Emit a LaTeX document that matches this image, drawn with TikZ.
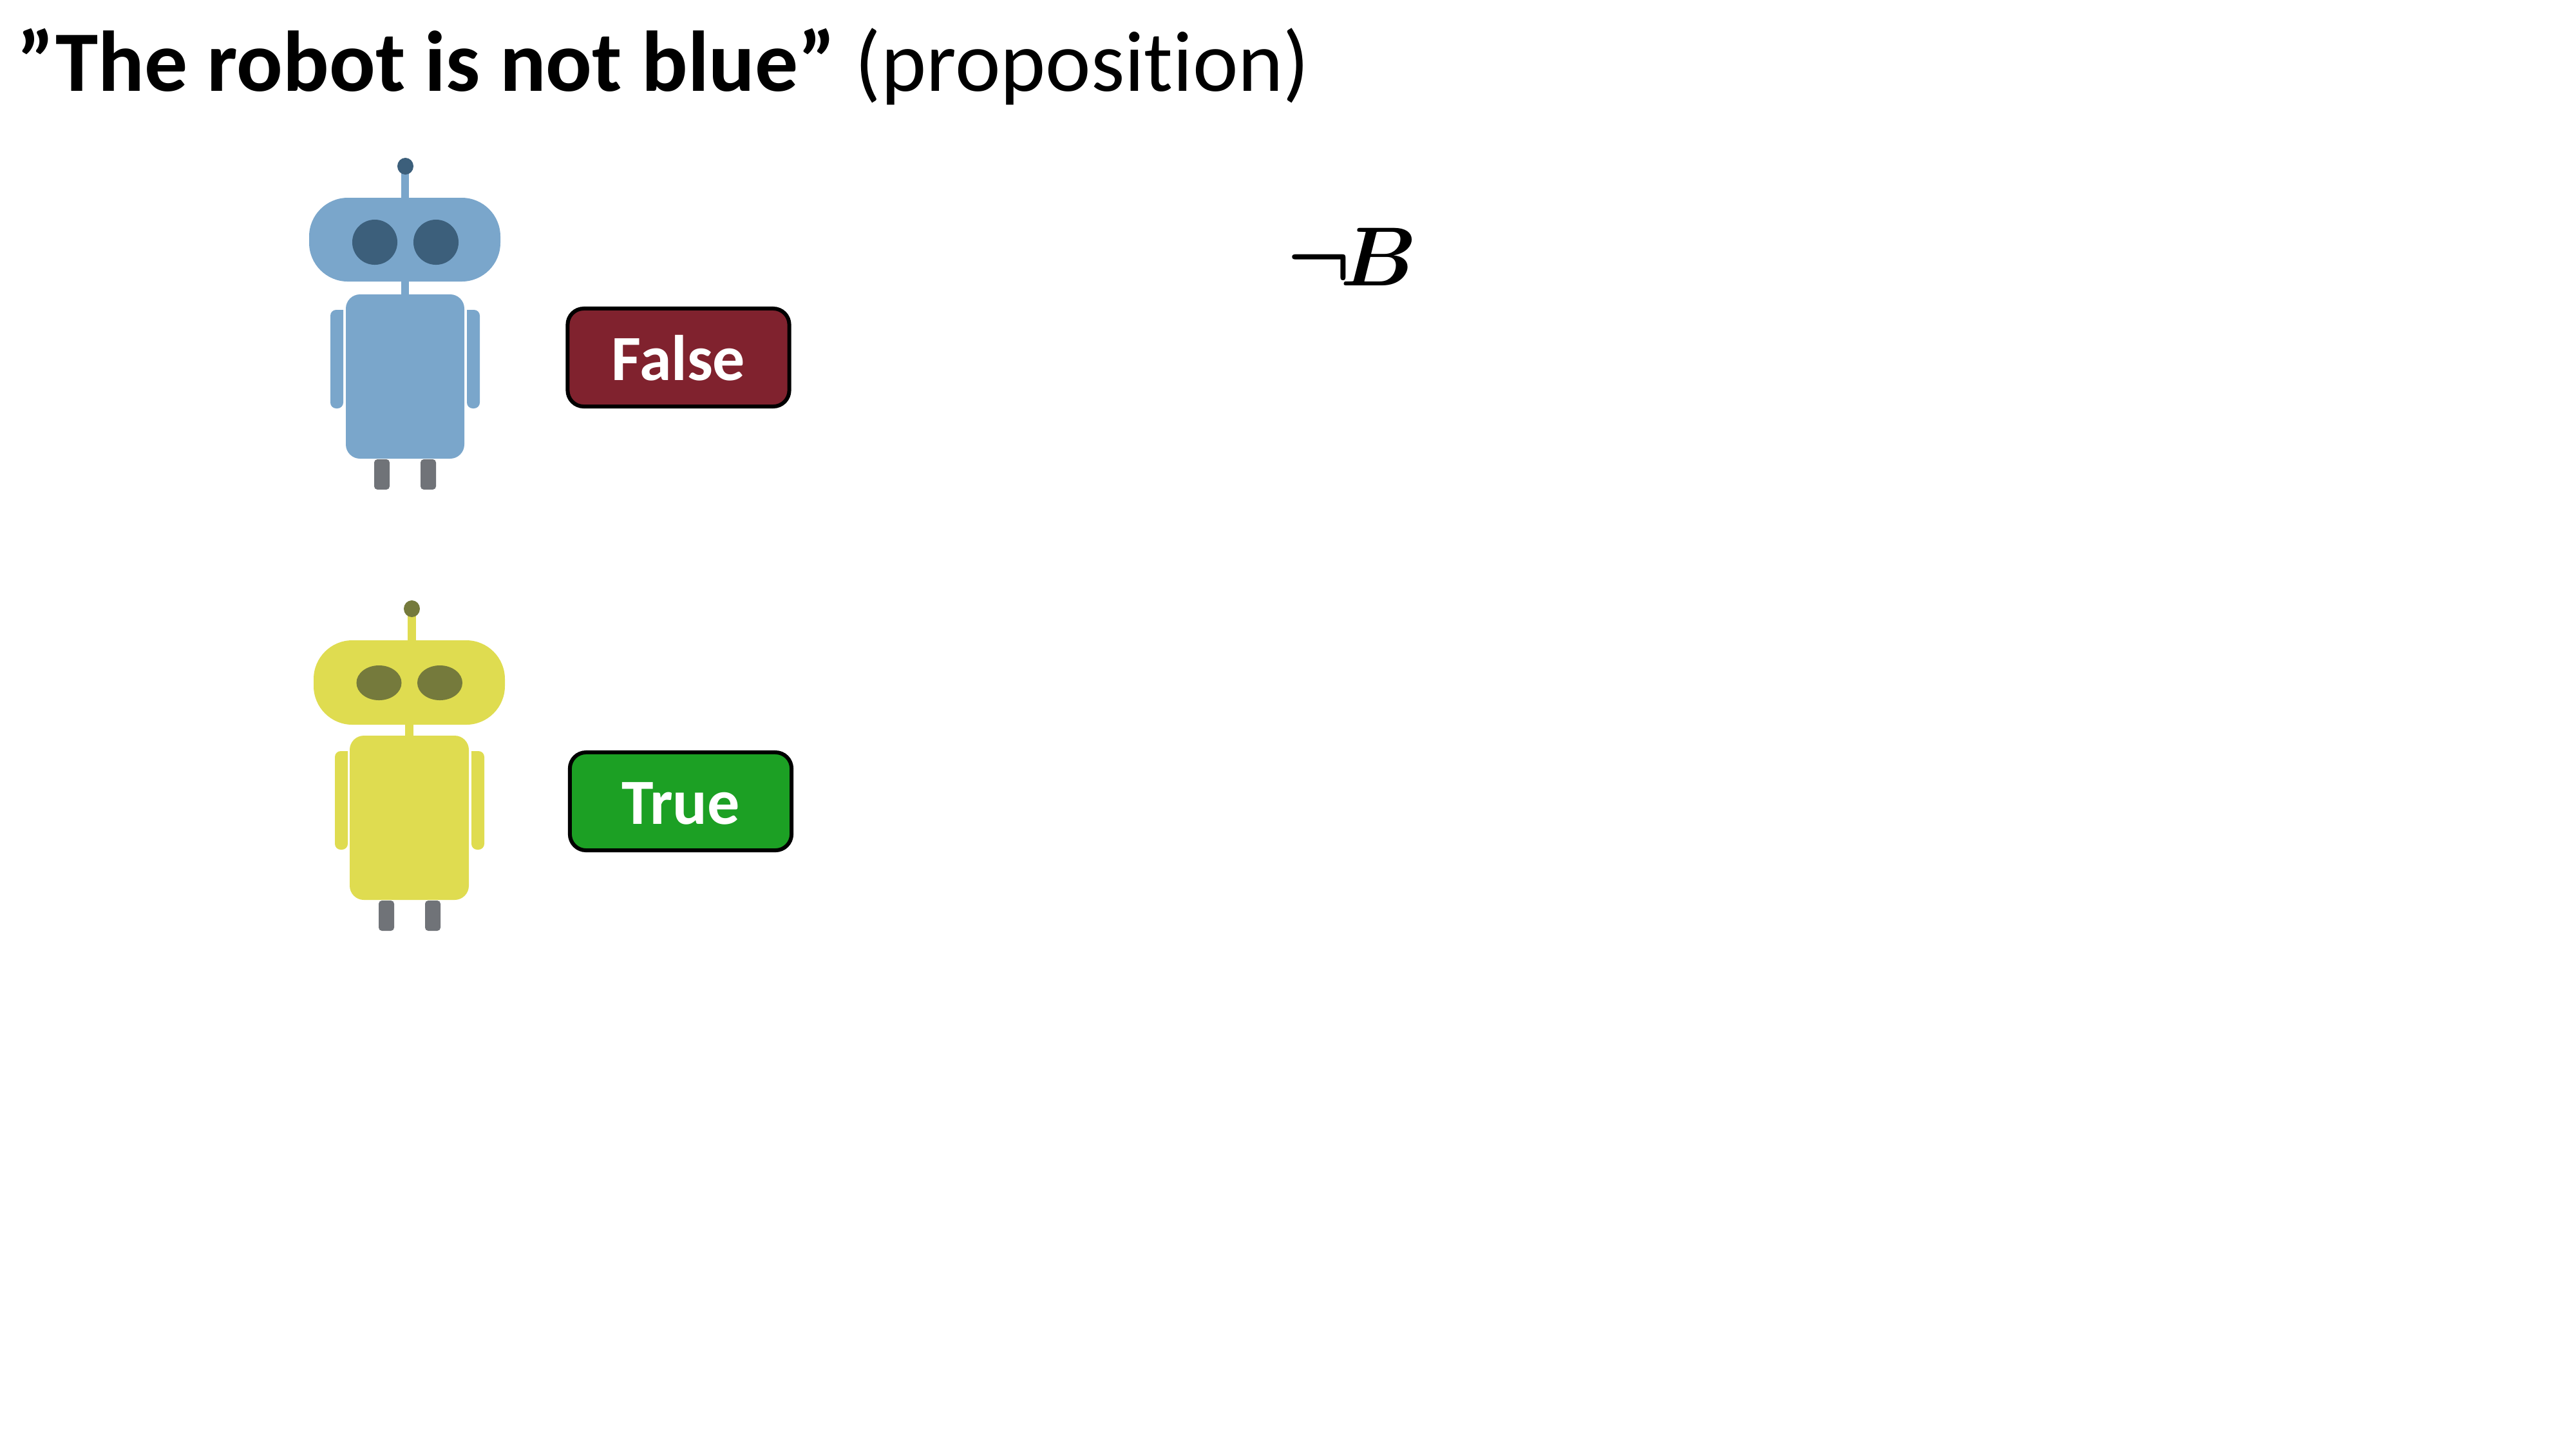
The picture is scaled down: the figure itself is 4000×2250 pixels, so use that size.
\documentclass[tikz,border=0pt]{standalone}
\usepackage{fix-cm}
\usepackage{fontspec}
\setmainfont{Carlito}[Ligatures=NoCommon]
\definecolor{blueBody}{HTML}{7AA6CB}
\definecolor{blueDark}{HTML}{3C5F7B}
\definecolor{yellowBody}{HTML}{DFDC50}
\definecolor{yellowDark}{HTML}{757A3C}
\definecolor{legGray}{HTML}{707378}
\definecolor{falseRed}{HTML}{80222E}
\definecolor{trueGreen}{HTML}{1CA024}
\tikzset{
    answer/.style={draw=black,line width=.06cm,rounded corners=.25cm,minimum width=3.44cm,minimum height=1.52cm,inner sep=0,text height=.7cm,text depth=0,text=white,font=\fontsize{28.45pt}{34pt}\selectfont\bfseries},
    leg/.style={fill=legGray,rounded corners=.05cm},
    head/.style={rounded corners=.6cm},
    torso/.style={rounded corners=.22cm},
    arm/.style={rounded corners=.09cm},
}
\begin{document}
\begin{tikzpicture}[x=.01cm,y=-.01cm]
    \useasboundingbox (0,0) rectangle (4000,2250);
    \node[anchor=base west,inner sep=0,font=\fontsize{38pt}{45pt}\selectfont] (title) at (26,141) {\textbf{”The robot is not blue”} (proposition)};
    % blue robot
    \fill[blueBody] (623,258) rectangle (635,307);
    \fill[blueBody] (623,437) rectangle (635,460);
    \fill[blueDark] (629.5,258) ellipse (.125cm and .13cm);
    \fill[blueBody,head] (480,307) rectangle (777,437);
    \fill[blueDark] (582,376) circle (.35cm);
    \fill[blueDark] (677,376) circle (.35cm);
    \fill[blueBody,torso] (537,457) rectangle (721,712);
    \fill[blueBody,arm] (533,481) -- (513,481) -- (513,634) -- (533,634) [sharp corners] -- cycle;
    \fill[blueBody,arm] (725,481) -- (745,481) -- (745,634) -- (725,634) [sharp corners] -- cycle;
    \fill[leg] (581,713) rectangle (605,760);
    \fill[leg] (653,713) rectangle (677,760);
    \node[answer,fill=falseRed] (false) at (1053.5,555) {False};
    % yellow robot
    \fill[yellowBody] (633,945) rectangle (646,994);
    \fill[yellowBody] (629,1125) rectangle (642,1145);
    \fill[yellowDark] (639.5,945) ellipse (.125cm and .13cm);
    \fill[yellowBody,head] (487,994) rectangle (784,1125);
    \fill[yellowDark] (588.5,1060) ellipse (.35cm and .27cm);
    \fill[yellowDark] (683,1060) ellipse (.35cm and .27cm);
    \fill[yellowBody,torso] (543,1142) rectangle (728,1397);
    \fill[yellowBody,arm] (540,1166) -- (520,1166) -- (520,1319) -- (540,1319) [sharp corners] -- cycle;
    \fill[yellowBody,arm] (732,1166) -- (752,1166) -- (752,1319) -- (732,1319) [sharp corners] -- cycle;
    \fill[leg] (588,1398) rectangle (612,1445);
    \fill[leg] (660,1398) rectangle (684,1445);
    \node[answer,fill=trueGreen] (true) at (1057,1244) {True};
    % formula
    \node[anchor=base west,inner sep=0,font=\fontsize{37pt}{46pt}\selectfont\boldmath] (formula) at (1998,443) {$\neg\mkern-2mu B$};
\end{tikzpicture}
\end{document}
